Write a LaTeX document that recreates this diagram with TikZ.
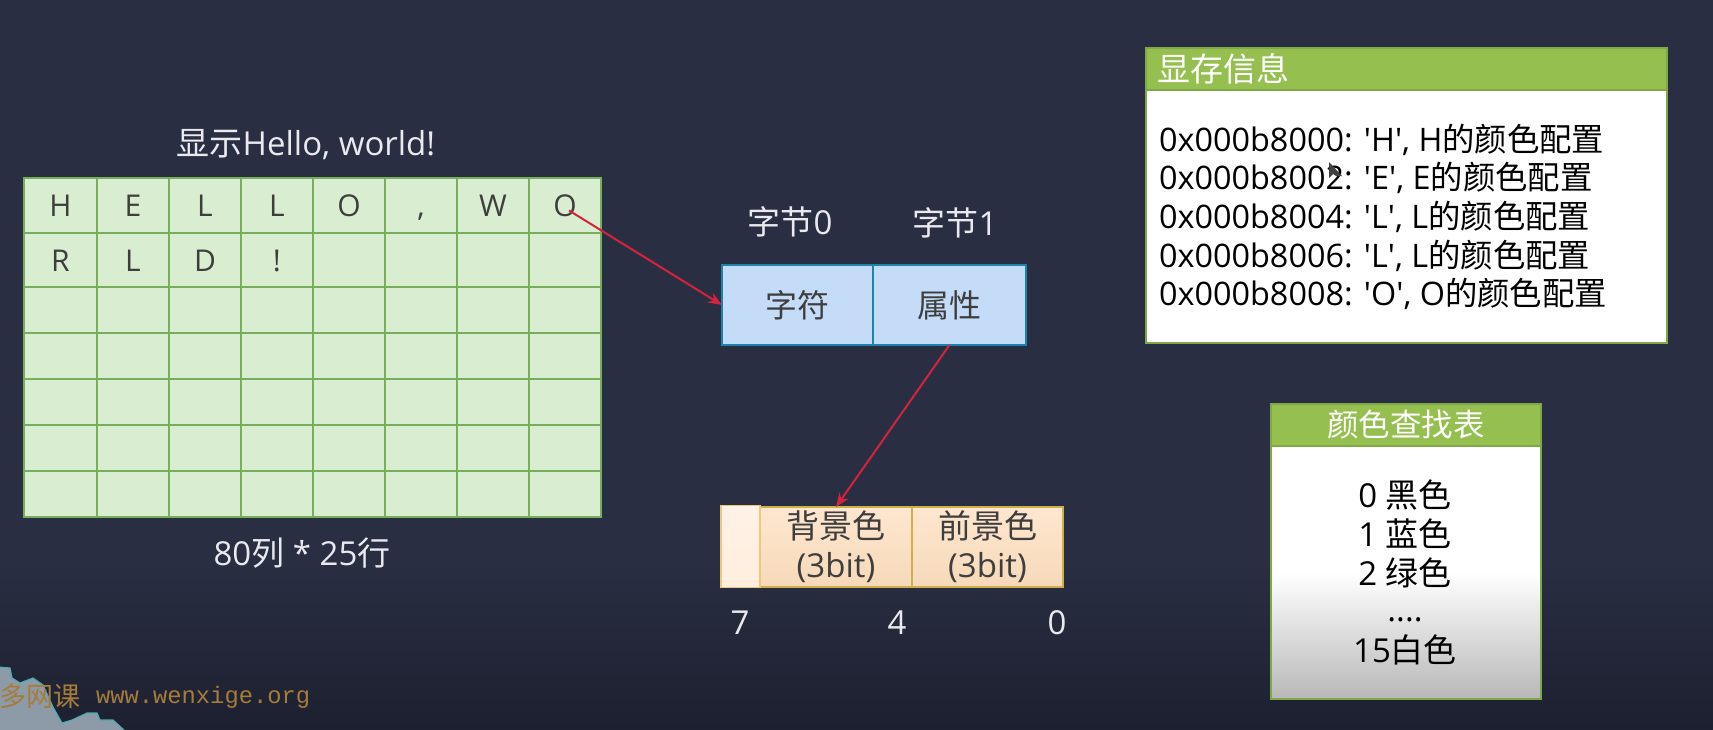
\documentclass[tikz,border=0pt]{standalone}
\usepackage{fontspec}
\setmainfont{Open Sans}
\newfontfamily\zhfont{Noto Sans CJK SC}
\newfontfamily\wmfont{Liberation Mono}
\newfontfamily\plainlat{Open Sans}
\newcommand{\zh}[1]{{\zhfont #1}}
\newcommand{\sq}{{\plainlat\char39\relax}}
\definecolor{bgtop}{HTML}{2A2E42}
\definecolor{bgbot}{HTML}{1C2030}
\definecolor{lighttext}{HTML}{E9E9EF}
\definecolor{darktext}{HTML}{3E3E3E}
\definecolor{gridfill}{HTML}{D9EED0}
\definecolor{gridline}{HTML}{76AE5C}
\definecolor{bluefill}{HTML}{C5DCF9}
\definecolor{blueline}{HTML}{1B84A8}
\definecolor{orangetop}{HTML}{FEE7CF}
\definecolor{orangebot}{HTML}{F6D9B9}
\definecolor{orangeline}{HTML}{CFAE4E}
\definecolor{palefill}{HTML}{FFF1E6}
\definecolor{paleline}{HTML}{EFC67A}
\definecolor{headfill}{HTML}{95BF4E}
\definecolor{headline}{HTML}{7FA846}
\definecolor{arrowred}{HTML}{D4233C}
\definecolor{wmtext}{HTML}{A67C3A}
\definecolor{gearfill}{HTML}{8D9BA8}
\definecolor{gearline}{HTML}{4FA9B5}
\tikzset{
  every node/.style={inner sep=0pt,outer sep=0pt},
  gridcell/.style={draw=gridline,fill=gridfill,line width=1.4pt},
  letter/.style={text=darktext,text height=22pt,text depth=0pt,font=\fontsize{30}{34}\selectfont},
  lighttxt/.style={text=lighttext,font=\fontsize{33}{38}\selectfont},
  bluebox/.style={draw=blueline,fill=bluefill,line width=1.5pt,text=darktext,font=\fontsize{32}{36}\selectfont},
  orangebox/.style={draw=orangeline,top color=orangetop,bottom color=orangebot,line width=1.6pt,text=darktext,align=center,font=\fontsize{33}{39}\selectfont},
  palebox/.style={draw=paleline,top color=palefill,bottom color=orangetop!70!white,line width=1.8pt},
  headbox/.style={draw=headline,fill=headfill,line width=1.2pt,text=white,font=\fontsize{33}{38}\selectfont},
  bodybox/.style={draw=headline,fill=white,line width=1.2pt},
  lutline/.style={text=black,font=\fontsize{33}{39}\selectfont},
  conn/.style={draw=arrowred,line width=2pt,-{Stealth[length=14pt,width=11pt]}},
}
\usetikzlibrary{arrows.meta}
\begin{document}
\begin{tikzpicture}[x=1pt,y=-1pt]
\useasboundingbox (0,0) rectangle (1713,729);
\fill[bgtop] (0,0) rectangle (1713,560);
\shade[top color=bgtop,bottom color=bgbot] (0,560) rectangle (1713,729);
% gear of the watermark
\filldraw[fill=gearfill,draw=gearline,line width=1.2pt]
  (-2,667) -- (10,668) -- (12,678) -- (20,683) -- (33,678) -- (43,685) -- (53,707) -- (62,723) -- (72,720) -- (87,713) -- (97,713) -- (100,720) -- (113,720) -- (125,731) -- (-2,731) -- cycle;
% text grid
\foreach \r/\t/\b in {1/178/233,2/233/287,3/287/333,4/333/379,5/379/425,6/425/471,7/471/517}
  \foreach \c/\l/\e in {1/24/97,2/97/169,3/169/241,4/241/313,5/313/385,6/385/457,7/457/529,8/529/601}
    \node[gridcell,minimum width={(\e-\l)*1pt},minimum height={(\b-\t)*1pt}] (c\c-\r) at ({(\l+\e)/2},{(\t+\b)/2}) {};
\foreach \c/\ch in {1/H,2/E,3/L,4/L,5/O,6/{,},7/W,8/O}
  \node[letter] (ta\c) at (c\c-1) {\ch};
\foreach \c/\ch in {1/R,2/L,3/D,4/!}
  \node[letter] (tb\c) at (c\c-2) {\ch};
\node[lighttxt] (title) at (306,145) {\zh{显示}Hello, world!};
\node[lighttxt] (size) at (302,553) {80\zh{列} * 25\zh{行}};
% bytes
\node[lighttxt] (b0lab) at (790,222) {\zh{字节}0};
\node[lighttxt] (b1lab) at (955,223) {\zh{字节}1};
\node[bluebox,minimum width=151pt,minimum height=80pt] (byte0) at (797.5,305) {\zh{字符}};
\node[bluebox,minimum width=153pt,minimum height=80pt] (byte1) at (949.5,305) {\zh{属性}};
% attribute bits
\node[orangebox,minimum width=152pt,minimum height=80pt] (bgc) at (836,547) {\zh{背景色}\\(3bit)};
\node[orangebox,minimum width=151pt,minimum height=80pt] (fgc) at (987.5,547) {\zh{前景色}\\(3bit)};
\node[palebox,minimum width=39pt,minimum height=82pt] (blink) at (740.5,546.5) {};
\node[lighttxt] (n7) at (740,623) {7};
\node[lighttxt] (n4) at (897,623) {4};
\node[lighttxt] (n0) at (1057,623) {0};
% memory info
\node[bodybox,minimum width=521pt,minimum height=253pt] (membody) at (1406.5,216.5) {};
\node[headbox,minimum width=521pt,minimum height=42pt,anchor=center] (memhead) at (1406.5,69) {};
\node[headbox,draw=none,fill=none,anchor=west] (memtitle) at (1157,69) {\zh{显存信息}};
\node[anchor=west,align=left,text=black,font=\fontsize{32.4}{38.7}\selectfont] (memtext) at (1159,217)
  {0x000b8000: \sq H\sq, H\zh{的颜色配置}\\
   0x000b8002: \sq E\sq, E\zh{的颜色配置}\\
   0x000b8004: \sq L\sq, L\zh{的颜色配置}\\
   0x000b8006: \sq L\sq, L\zh{的颜色配置}\\
   0x000b8008: \sq O\sq, O\zh{的颜色配置}};
\fill[black!75] (1329,162) -- (1329,178) -- (1333,174) -- (1336,176) -- (1342,176) -- cycle;
% colour table
\node[bodybox,top color=white,bottom color=black!28,middle color=white,minimum width=270pt,minimum height=253pt] (lutbody) at (1406,572.5) {};
\node[headbox,font=\fontsize{31.5}{38}\selectfont,minimum width=270pt,minimum height=42pt] (luthead) at (1406,425) {\zh{颜色查找表}};
\node[lutline] (l0) at (1405,495) {0 \zh{黑色}};
\node[lutline] (l1) at (1405,534) {1 \zh{蓝色}};
\node[lutline] (l2) at (1405,573) {2 \zh{绿色}};
\node[lutline] (l3) at (1405,620) {....};
\node[lutline] (l4) at (1405,650) {15\zh{白色}};
% watermark
\node[anchor=west,text=wmtext,font=\fontsize{27}{30}\selectfont] (wm) at (-1,696) {\zh{多网课}};
\node[anchor=west,text=wmtext,font=\fontsize{23.8}{28}\selectfont\wmfont] (wmurl) at (96,697) {www.wenxige.org};
% connectors
\draw[conn] ([shift={(4,5)}]c8-1.center) -- (byte0.west);
\draw[conn] (byte1.south) -- (bgc.north);
\end{tikzpicture}
\end{document}
